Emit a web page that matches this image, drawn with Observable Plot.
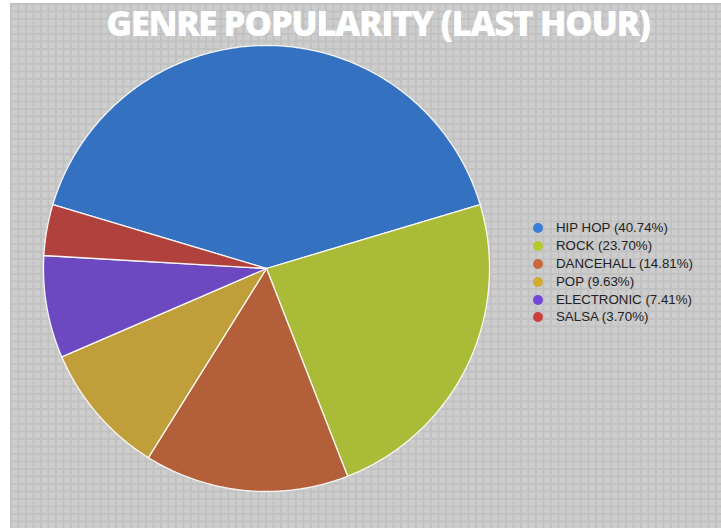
<!DOCTYPE html>
<html>
<head>
<meta charset="utf-8">
<script src="https://cdn.jsdelivr.net/npm/d3@7"></script>
<script src="https://cdn.jsdelivr.net/npm/@observablehq/plot@0.6"></script>
<style>
  html, body { margin: 0; padding: 0; background: #ffffff; }
  #wrap { position: relative; width: 721px; height: 528px; overflow: hidden; background: #ffffff; }
  #bg {
    position: absolute; left: 10px; top: 3px; right: 0; bottom: 0;
    background-color: #cdcdcd;
    background-image:
      linear-gradient(to right, #c1c1c1 0, #c1c1c1 1.6px, rgba(0,0,0,0) 1.6px),
      linear-gradient(to bottom, #c1c1c1 0, #c1c1c1 1.6px, rgba(0,0,0,0) 1.6px);
    background-size: 7.5px 7.5px;
  }
  #title {
    position: absolute; left: 0; top: 1px; width: 756px; text-align: center;
    font-family: "Open Sans", sans-serif; font-weight: 800; font-size: 35px;
    color: #ffffff; letter-spacing: -1.5px; line-height: 44px;
  }
  #chart { position: absolute; left: 0; top: 0; }
  #legend { position: absolute; left: 531px; top: 219px; font-family: Arial, "Liberation Sans", sans-serif; font-size: 13.3px; color: #222; }
  #legend .row { height: 17.9px; line-height: 17.9px; display: flex; align-items: center; }
  #legend .dot { width: 10px; height: 10px; border-radius: 50%; margin-right: 13px; margin-left: 2px; }
</style>
</head>
<body>
<div id="wrap">
  <div id="bg"></div>
  <div id="chart"></div>
  <div id="title">GENRE POPULARITY (LAST HOUR)</div>
  <div id="legend"></div>
</div>
<script>
const genres = ["HIP HOP", "ROCK", "DANCEHALL", "POP", "ELECTRONIC", "SALSA"];
const percents = [40.74, 23.70, 14.81, 9.63, 7.41, 3.70];
const sliceColors = ["#3571c1", "#a9bb37", "#b35f3a", "#c09e39", "#6c49c1", "#b0413d"];
const dotColors = ["#3a7fd6", "#b5ca2f", "#c8693c", "#d1ab34", "#7448d6", "#c8403c"];

const total = d3.sum(percents);
const start = -Math.PI * percents[0] / total;
const arcs = d3.pie().sort(null).startAngle(start).endAngle(start + 2 * Math.PI)(percents);

const pts = [];
arcs.forEach((a, i) => {
  const g = genres[i];
  pts.push({genre: g, x: 0, y: 0});
  const n = Math.max(4, Math.ceil((a.endAngle - a.startAngle) / 0.01));
  for (let k = 0; k <= n; k++) {
    const t = a.startAngle + (a.endAngle - a.startAngle) * k / n;
    pts.push({genre: g, x: Math.sin(t), y: Math.cos(t)});
  }
  pts.push({genre: g, x: 0, y: 0});
});

const plot = Plot.plot({
  width: 721,
  height: 528,
  margin: 0,
  style: {background: "transparent", overflow: "visible"},
  x: {domain: [-1, 1], range: [43, 489], axis: null},
  y: {domain: [-1, 1], range: [491, 45], axis: null},
  color: {domain: genres, range: sliceColors},
  marks: [
    Plot.line(pts, {x: "x", y: "y", z: "genre", fill: "genre", stroke: "white", strokeWidth: 1.3, strokeOpacity: 0.9, curve: "linear"})
  ]
});
document.getElementById("chart").appendChild(plot);

const legend = document.getElementById("legend");
genres.forEach((g, i) => {
  const row = document.createElement("div");
  row.className = "row";
  const dot = document.createElement("span");
  dot.className = "dot";
  dot.style.background = dotColors[i];
  const label = document.createElement("span");
  label.textContent = `${g} (${percents[i].toFixed(2)}%)`;
  row.appendChild(dot);
  row.appendChild(label);
  legend.appendChild(row);
});
</script>
</body>
</html>
